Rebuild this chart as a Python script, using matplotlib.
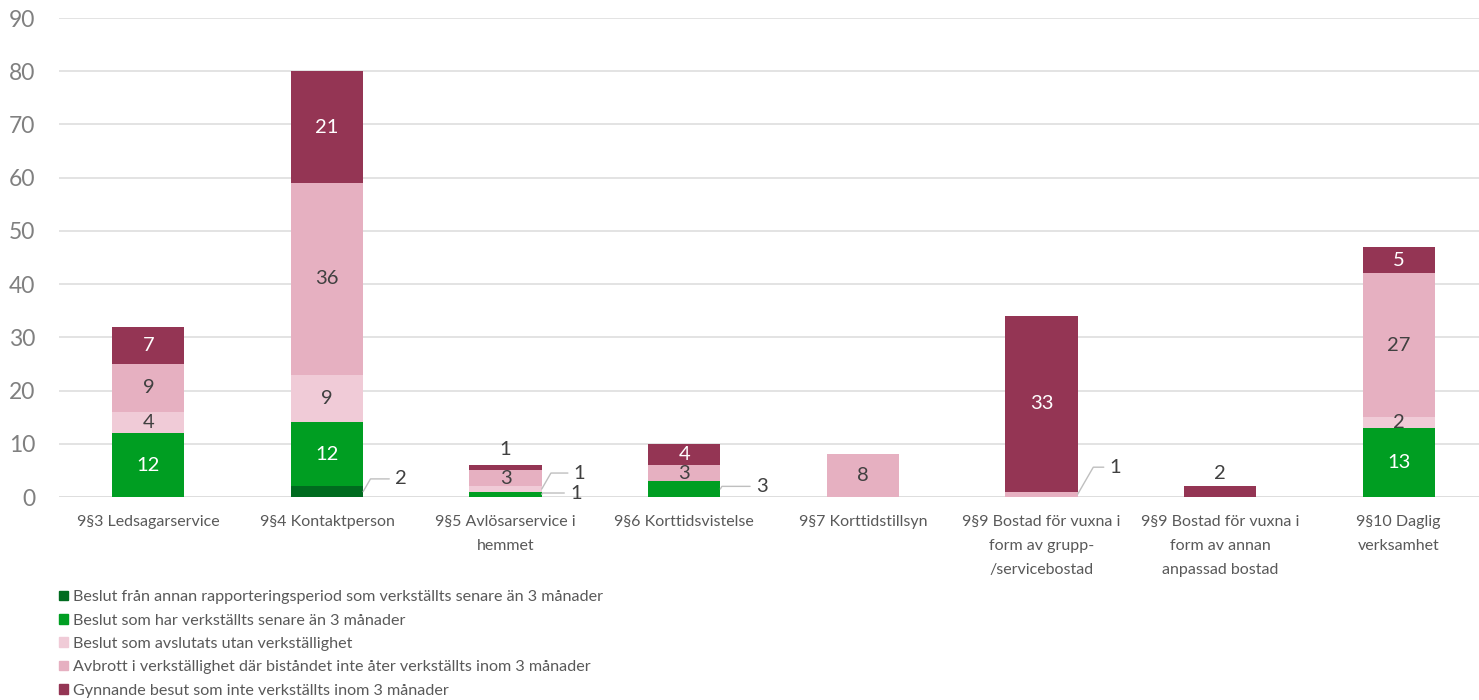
import numpy as np
import matplotlib.pyplot as plt

plt.rcParams['font.family'] = ['Lato', 'DejaVu Sans']

categories = ['9§3 Ledsagarservice', '9§4 Kontaktperson', '9§5 Avlösarservice i\nhemmet',
              '9§6 Korttidsvistelse', '9§7 Korttidstillsyn',
              '9§9 Bostad för vuxna i\nform av grupp-\n/servicebostad',
              '9§9 Bostad för vuxna i\nform av annan\nanpassad bostad',
              '9§10 Daglig\nverksamhet']
series_names = ['Beslut från annan rapporteringsperiod som verkställts senare än 3 månader',
                'Beslut som har verkställts senare än 3 månader',
                'Beslut som avslutats utan verkställighet',
                'Avbrott i verkställighet där biståndet inte åter verkställts inom 3 månader',
                'Gynnande besut som inte verkställts inom 3 månader']
annan_period = [0, 2, 0, 0, 0, 0, 0, 0]
senare = [12, 12, 1, 3, 0, 0, 0, 13]
avslutats = [4, 9, 1, 0, 0, 0, 0, 2]
avbrott = [9, 36, 3, 3, 8, 1, 0, 27]
gynnande = [7, 21, 1, 4, 0, 33, 2, 5]

data = [annan_period, senare, avslutats, avbrott, gynnande]
colors = ['#006B1F', '#009E22', '#F0CBD7', '#E6B0C1', '#943554']
label_colors = ['white', 'white', '#404040', '#404040', 'white']

fig = plt.figure(figsize=(14.79, 7), dpi=100)
ax = fig.add_axes([59/1479, 0.29, 1429/1479, 479/700])

x = np.arange(len(categories))
w = 0.405
bottom = np.zeros(len(categories))
bars = []
for vals, c in zip(data, colors):
    b = ax.bar(x, vals, w, bottom=bottom, color=c, zorder=3)
    bars.append((b, np.array(vals), bottom.copy()))
    bottom += np.array(vals)

# outside labels with leader lines: (series, category, text x, text y)
outside = [
    (0, 1, 1.38, 3.4),
    (2, 2, 2.38, 4.5),
    (1, 2, 2.36, 0.75),
    (1, 3, 3.40, 2.0),
    (3, 5, 5.38, 5.6),
]
above = [(4, 2, 3.0), (4, 6, 2.5)]
skip = {(s, c) for s, c, *_ in outside} | {(s, c) for s, c, _ in above}

# labels inside segments
for si, (b, vals, bot) in enumerate(bars):
    for i, v in enumerate(vals):
        if v > 0 and (si, i) not in skip:
            ax.text(x[i], bot[i] + v / 2, str(v), ha='center', va='center',
                    fontsize=14.5, color=label_colors[si], zorder=4)

lead = dict(arrowstyle='-', color='#BFBFBF', lw=1,
            connectionstyle='angle,angleA=180,angleB=60,rad=0', shrinkA=2, shrinkB=0)
for si, ci, tx, ty in outside:
    b, vals, bot = bars[si]
    ax.annotate(str(vals[ci]), xy=(x[ci] + w / 2, bot[ci] + vals[ci] / 2), xytext=(tx, ty),
                ha='left', va='center', fontsize=14.5, color='#404040',
                arrowprops=lead, zorder=4)
for si, ci, off in above:
    ax.text(x[ci], bottom[ci] + off, str(data[si][ci]), ha='center', va='center',
            fontsize=14.5, color='#404040')

ax.set_ylim(0, 90)
ax.set_xlim(-0.5, 7.5)
ax.set_yticks(range(0, 91, 10))
ax.yaxis.grid(True, color='#DEDEDE', lw=1.2, zorder=0)
for s in ax.spines.values():
    s.set_visible(False)
ax.axhline(0, color='#DEDEDE', lw=1.2, zorder=2)
ax.tick_params(axis='y', length=0, labelsize=16.5, labelcolor='#808080', pad=17)
ax.tick_params(axis='x', length=0, labelsize=11.5, labelcolor='#595959', pad=13)
ax.set_xticks(x)
ax.set_xticklabels(categories, linespacing=1.9)

handles = [plt.Rectangle((0, 0), 1, 1, color=c) for c in colors]
fig.legend(handles, series_names, loc='upper left', bbox_to_anchor=(48/1479, 1 - 579/700),
           frameon=False, fontsize=11.6, labelcolor='#595959', handlelength=0.55, handleheight=0.55,
           handletextpad=0.3, labelspacing=0.58, borderpad=0.2)

fig.savefig('out.png', dpi=100)
